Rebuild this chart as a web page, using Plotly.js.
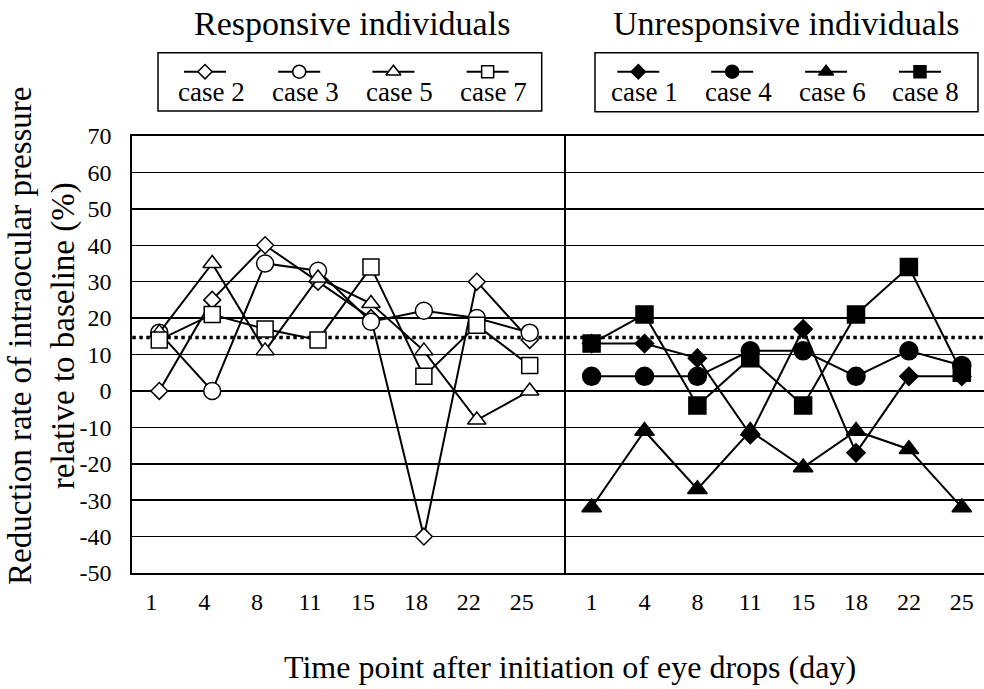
<!DOCTYPE html>
<html>
<head>
<meta charset="utf-8">
<script src="https://cdn.plot.ly/plotly-3.0.1.min.js"></script>
<style>html,body{margin:0;padding:0;background:#fff;}#chart{width:984px;height:689px;}</style>
</head>
<body>
<div id="chart"></div>
<script>
// ---- data ----
const days = ['1','4','8','11','15','18','22','25'];
// responsive individuals
const case2 = [0, 25, 40, 30, 20, -40, 30, 14];
const case3 = [16, 0, 35, 33, 19, 22, 20, 16];
const case5 = [16, 35, 11, 31, 24, 11, -8, 0];
const case7 = [14, 21, 17, 14, 34, 4, 18, 7];
// unresponsive individuals
const case1 = [13, 13, 9, -12, 17, -17, 4, 4];
const case4 = [4, 4, 4, 11, 11, 4, 11, 7];
const case6 = [-32, -11, -27, -11, -21, -11, -16, -32];
const case8 = [13, 21, -4, 9, -4, 21, 34, 5];
const threshold = 14.7;

const respNames = ['case 2', 'case 3', 'case 5', 'case 7'];
const unrespNames = ['case 1', 'case 4', 'case 6', 'case 8'];
const respSeries = [case2, case3, case5, case7];
const unrespSeries = [case1, case4, case6, case8];
const symbols = ['diamond', 'circle', 'triangle-up', 'square'];
const openSizes = [13, 17, 16, 16];
const fillSizes = [14, 18, 17, 17];
const legendSizes = [11, 13, 13, 12];

const yTickVals = [-50, -40, -30, -20, -10, 0, 10, 20, 30, 40, 50, 60, 70];
const yTickText = yTickVals.map(String);

const FONT = 'Liberation Serif, Times New Roman, serif';
const W = 984, H = 689;
const px = v => v / W;
const py = v => 1 - v / H;

const traces = [];
function dataTrace(name, y, i, filled, xa, ya) {
  return {
    type: 'scatter', mode: 'lines+markers', name: name,
    x: days, y: y, xaxis: xa, yaxis: ya,
    line: {color: '#000', width: 2},
    marker: {symbol: symbols[i], size: filled ? fillSizes[i] : openSizes[i],
             color: filled ? '#000' : '#fff', line: {color: '#000', width: 1.5}},
    showlegend: false, cliponaxis: false
  };
}
respSeries.forEach((s, i) => traces.push(dataTrace(respNames[i], s, i, false, 'x', 'y')));
unrespSeries.forEach((s, i) => traces.push(dataTrace(unrespNames[i], s, i, true, 'x2', 'y2')));

function legendTrace(name, i, filled, xa, ya) {
  return {
    type: 'scatter', mode: 'markers', name: name,
    x: [name], y: [0], xaxis: xa, yaxis: ya,
    marker: {symbol: symbols[i], size: legendSizes[i],
             color: filled ? '#000' : '#fff', line: {color: '#000', width: 1.5}},
    showlegend: false, cliponaxis: false
  };
}
respNames.forEach((n, i) => traces.push(legendTrace(n, i, false, 'x3', 'y3')));
unrespNames.forEach((n, i) => traces.push(legendTrace(n, i, true, 'x4', 'y4')));

const tickFont = {family: FONT, size: 24, color: '#000'};
const plotYDomain = [py(573), py(136)];

const yAxisBase = {
  range: [-50, 70], tickvals: yTickVals, ticktext: yTickText, showgrid: true, gridcolor: '#000', gridwidth: 1.5,
  zeroline: false, showline: true, linecolor: '#000', linewidth: 2, ticks: '',
  tickfont: tickFont, domain: plotYDomain, fixedrange: true
};
const xAxisBase = {
  type: 'category', categoryorder: 'array', categoryarray: days,
  showgrid: false, zeroline: false, showline: true, mirror: true, linecolor: '#000', linewidth: 2,
  ticks: '', tickfont: tickFont, ticklabelstandoff: 6, fixedrange: true
};

const legendAxisX = (dom, rng, cats) => ({
  domain: dom, range: rng, type: 'category', categoryorder: 'array', categoryarray: cats,
  visible: false, fixedrange: true
});
const legendAxisY = {domain: [py(111), py(52.7)], range: [-0.674, 0.326], visible: false, fixedrange: true};

const annFont = size => ({family: FONT, size: size, color: '#000'});
const annotations = [
  {text: 'Responsive individuals', xref: 'paper', yref: 'paper', x: px(352), y: py(24),
   xanchor: 'center', yanchor: 'middle', showarrow: false, font: annFont(34)},
  {text: 'Unresponsive individuals', xref: 'paper', yref: 'paper', x: px(786.5), y: py(24),
   xanchor: 'center', yanchor: 'middle', showarrow: false, font: annFont(34)},
  {text: 'Time point after initiation of eye drops (day)', xref: 'paper', yref: 'paper',
   x: px(570), y: py(667), xanchor: 'center', yanchor: 'middle', showarrow: false, font: annFont(32)},
  {text: 'Reduction rate of intraocular pressure<br>relative to baseline (%)', xref: 'paper', yref: 'paper',
   x: px(42), y: py(336), xanchor: 'center', yanchor: 'middle', textangle: -90, showarrow: false,
   font: annFont(33)}
];
respNames.forEach(n => annotations.push({text: n, xref: 'x3', yref: 'paper', x: n, y: py(92),
  xshift: 6, xanchor: 'center', yanchor: 'middle', showarrow: false, font: annFont(27)}));
unrespNames.forEach(n => annotations.push({text: n, xref: 'x4', yref: 'paper', x: n, y: py(92),
  xshift: 6, xanchor: 'center', yanchor: 'middle', showarrow: false, font: annFont(27)}));

const shapes = [
  {type: 'line', xref: 'paper', yref: 'y', x0: px(132.3), x1: 1, y0: threshold, y1: threshold,
   layer: 'below', line: {color: '#000', width: 3.5, dash: 'dot'}},
  {type: 'rect', xref: 'paper', yref: 'paper', x0: px(158), x1: px(541.7), y0: py(111), y1: py(52.7),
   line: {color: '#000', width: 1.5}},
  {type: 'rect', xref: 'paper', yref: 'paper', x0: px(595), x1: px(978), y0: py(111.7), y1: py(52.7),
   line: {color: '#000', width: 1.5}}
];
// legend line segments through each legend symbol
function legendSeg(name, xr, yr) {
  return {type: 'line', xref: xr, yref: yr, xsizemode: 'pixel', xanchor: name, x0: -21, x1: 21,
          y0: 0, y1: 0, layer: 'below', line: {color: '#000', width: 2}};
}
respNames.forEach(n => shapes.push(legendSeg(n, 'x3', 'y3')));
unrespNames.forEach(n => shapes.push(legendSeg(n, 'x4', 'y4')));

const layout = {
  width: W, height: H,
  margin: {l: 0, r: 0, t: 0, b: 0},
  paper_bgcolor: '#fff', plot_bgcolor: 'rgba(0,0,0,0)',
  showlegend: false,
  font: {family: FONT, color: '#000'},
  xaxis: Object.assign({}, xAxisBase, {domain: [px(132.3), px(565.7)], range: [-0.51, 7.68],
                       anchor: 'y', ticklabelshift: -8}),
  yaxis: Object.assign({}, yAxisBase, {anchor: 'x', ticklabelstandoff: 14}),
  xaxis2: Object.assign({}, xAxisBase, {domain: [px(565.7), 1], range: [-0.49, 7.42], anchor: 'y2'}),
  yaxis2: Object.assign({}, yAxisBase, {anchor: 'x2', showticklabels: false}),
  xaxis3: Object.assign(legendAxisX([px(158), px(541.7)], [-0.499, 3.574], respNames), {anchor: 'y3'}),
  yaxis3: Object.assign({}, legendAxisY, {anchor: 'x3'}),
  xaxis4: Object.assign(legendAxisX([px(595), px(978)], [-0.461, 3.618], unrespNames), {anchor: 'y4'}),
  yaxis4: Object.assign({}, legendAxisY, {anchor: 'x4'}),
  annotations: annotations,
  shapes: shapes
};

Plotly.newPlot('chart', traces, layout, {displayModeBar: false, staticPlot: true});
</script>
</body>
</html>
